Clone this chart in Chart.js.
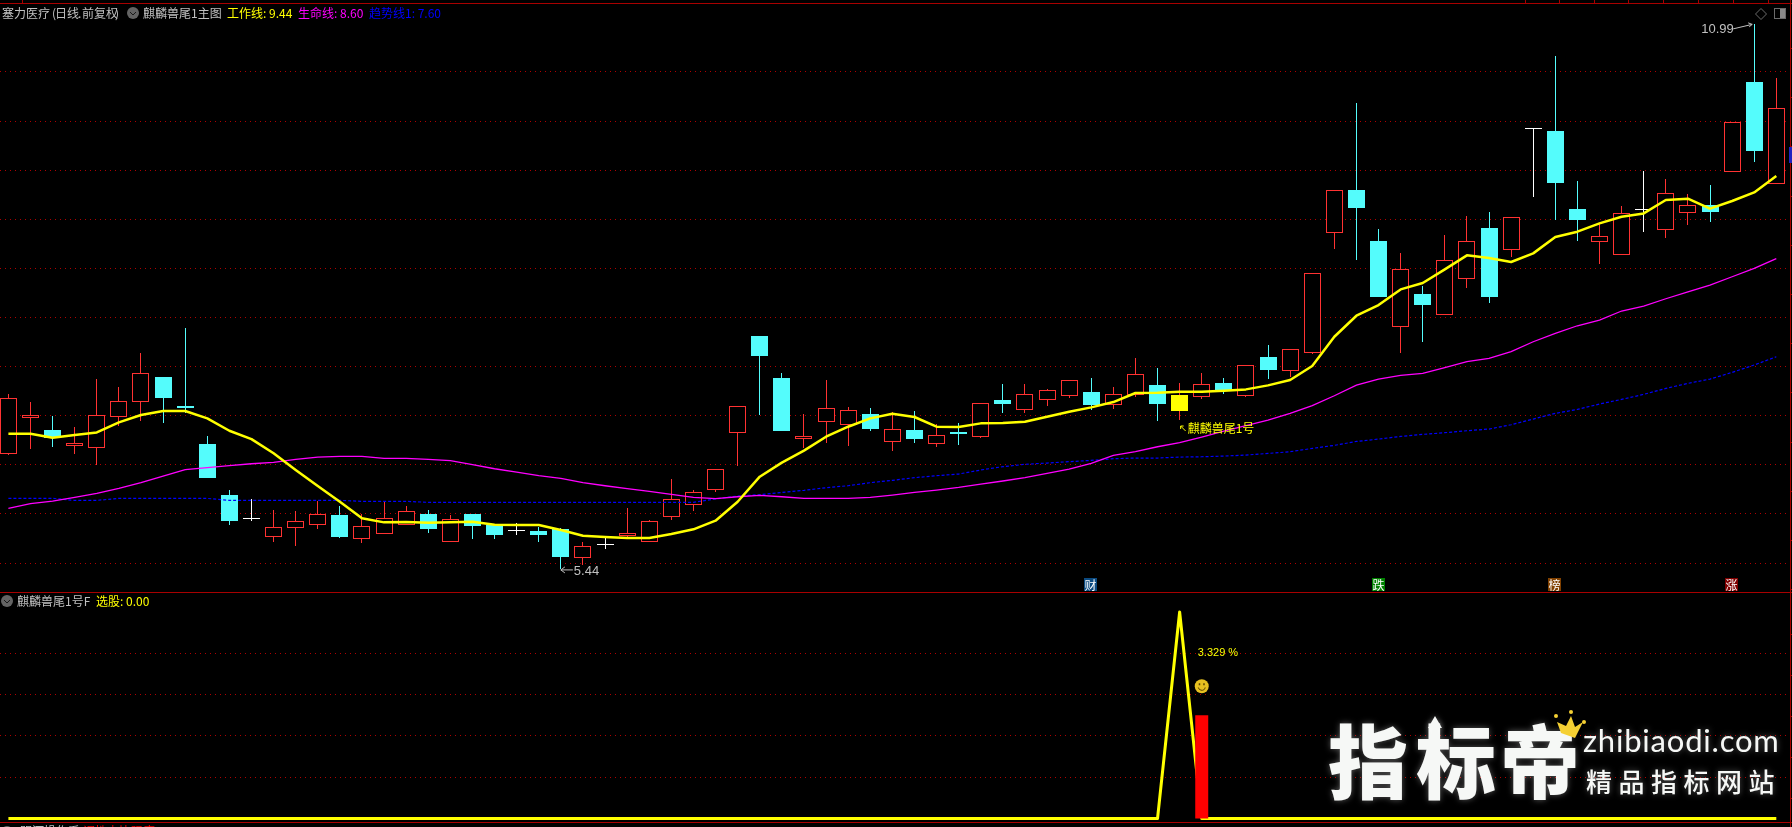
<!DOCTYPE html>
<html>
<head>
<meta charset="utf-8">
<title>塞力医疗</title>
<script src="https://cdn.jsdelivr.net/npm/chart.js@4/dist/chart.umd.min.js"></script>
<style>
html, body { margin: 0; padding: 0; background: #000; overflow: hidden; }
canvas { display: block; }
</style>
</head>
<body>
<canvas id="kline" width="1792" height="827"></canvas>
<script>
// daily bars
var opens = [6.613,6.980,6.854,6.695,6.674,6.990,7.143,7.394,7.099,6.712,6.192,5.951,5.765,5.860,5.887,5.989,5.748,5.798,5.890,5.999,5.717,5.999,5.887,5.829,5.826,5.846,5.554,5.693,5.778,5.717,5.972,6.094,6.247,6.827,7.811,7.384,6.766,6.939,6.908,7.017,6.735,6.854,6.715,6.834,6.786,7.160,7.061,7.163,7.204,7.241,7.112,7.207,7.312,7.048,7.193,7.332,7.203,7.597,7.458,7.641,8.864,9.298,8.779,7.906,8.239,8.028,8.395,8.911,8.690,9.926,9.899,9.105,8.772,8.640,9.101,8.894,9.067,9.145,9.485,10.398,9.363];
var highs = [7.221,7.139,6.997,6.888,7.374,7.292,7.638,7.394,7.893,6.793,6.243,6.148,6.040,6.029,6.131,6.084,5.995,6.121,6.080,6.040,5.989,5.999,5.887,5.904,5.870,5.853,5.714,5.751,6.060,5.938,6.355,6.243,6.454,7.095,7.811,7.431,7.017,7.363,7.085,7.078,7.034,7.048,6.912,6.925,7.126,7.323,7.323,7.272,7.360,7.384,7.292,7.587,7.486,7.333,7.434,7.383,7.512,7.719,7.675,8.449,9.295,10.184,8.901,8.653,8.320,8.840,9.033,9.074,9.019,9.926,10.663,9.390,8.959,9.135,9.492,9.410,9.257,9.349,9.987,10.99,10.439];
var lows = [6.600,6.661,6.681,6.610,6.494,6.895,6.949,6.925,7.024,6.365,5.887,5.928,5.714,5.673,5.846,5.754,5.707,5.798,5.890,5.805,5.717,5.744,5.744,5.785,5.714,5.44,5.479,5.642,5.761,5.717,5.938,6.029,6.223,6.491,7.007,6.844,6.671,6.722,6.691,6.847,6.640,6.722,6.681,6.701,6.773,7.027,7.027,7.099,7.180,7.058,7.068,7.194,6.949,6.956,7.170,7.224,7.193,7.373,7.394,7.628,8.697,8.589,8.208,7.638,7.750,8.028,8.300,8.147,8.616,9.230,8.996,8.782,8.545,8.640,8.870,8.809,8.942,8.972,9.485,9.583,9.363];
var closes = [7.177,7.004,6.773,6.718,7.004,7.146,7.431,7.180,7.078,6.365,5.928,5.951,5.863,5.924,5.995,5.765,5.873,5.955,6.026,5.846,5.944,5.877,5.785,5.829,5.785,5.561,5.670,5.693,5.802,5.924,6.148,6.219,6.454,7.095,7.608,6.844,6.793,7.075,7.054,6.864,6.861,6.762,6.800,6.813,7.126,7.119,7.217,7.258,7.360,7.109,7.217,7.421,7.119,7.211,7.319,7.251,7.512,7.465,7.675,8.449,9.295,9.115,8.208,8.490,8.127,8.582,8.775,8.208,9.019,9.926,9.369,8.993,8.826,9.061,9.101,9.264,9.142,9.074,9.987,9.695,10.130];

var workLine = [6.817,6.817,6.776,6.803,6.830,6.932,7.007,7.048,7.048,6.973,6.847,6.762,6.617,6.447,6.284,6.124,5.955,5.914,5.917,5.911,5.914,5.921,5.890,5.887,5.887,5.836,5.778,5.765,5.754,5.754,5.795,5.843,5.931,6.124,6.379,6.522,6.644,6.786,6.888,6.973,7.020,6.987,6.888,6.885,6.922,6.925,6.939,6.990,7.041,7.085,7.139,7.231,7.234,7.245,7.244,7.254,7.268,7.309,7.363,7.506,7.804,8.018,8.127,8.286,8.351,8.490,8.633,8.605,8.565,8.653,8.819,8.874,8.958,9.026,9.060,9.196,9.210,9.108,9.186,9.274,9.44];
var lifeLine = [6.056,6.104,6.131,6.168,6.209,6.260,6.318,6.386,6.450,6.471,6.491,6.511,6.525,6.555,6.579,6.586,6.586,6.566,6.566,6.555,6.542,6.501,6.460,6.426,6.389,6.362,6.318,6.287,6.257,6.230,6.199,6.169,6.155,6.175,6.189,6.175,6.158,6.158,6.158,6.169,6.192,6.219,6.243,6.270,6.304,6.335,6.369,6.413,6.457,6.515,6.596,6.634,6.684,6.725,6.783,6.844,6.898,6.956,7.024,7.102,7.203,7.312,7.373,7.411,7.431,7.489,7.550,7.584,7.652,7.753,7.838,7.916,7.974,8.066,8.117,8.191,8.262,8.330,8.415,8.500,8.60];
var trendLine = [6.158,6.158,6.158,6.138,6.138,6.158,6.158,6.158,6.158,6.158,6.138,6.138,6.138,6.138,6.138,6.138,6.128,6.128,6.128,6.118,6.118,6.118,6.118,6.118,6.118,6.118,6.118,6.118,6.118,6.118,6.118,6.118,6.152,6.182,6.196,6.219,6.240,6.267,6.287,6.318,6.342,6.369,6.389,6.406,6.447,6.481,6.505,6.518,6.532,6.545,6.562,6.569,6.569,6.579,6.582,6.589,6.599,6.616,6.633,6.667,6.698,6.738,6.762,6.789,6.810,6.827,6.847,6.864,6.908,6.966,7.024,7.064,7.119,7.166,7.217,7.278,7.329,7.373,7.441,7.516,7.60];

// lower panel
var pickLine = [0,0,0,0,0,0,0,0,0,0,0,0,0,0,0,0,0,0,0,0,0,0,0,0,0,0,0,0,0,0,0,0,0,0,0,0,0,0,0,0,0,0,0,0,0,0,0,0,0,0,0,0,0,100,0,0,0,0,0,0,0,0,0,0,0,0,0,0,0,0,0,0,0,0,0,0,0,0,0,0,0];
var pickBarIndex = [54];
var pickBarValue = [50];

var priceTicks = [10.5,10,9.5,9,8.5,8,7.5,7,6.5,6,5.5];
var pickTicks = [80,60,40,20];

var signalIndex = 53;
var lowIndex = 25;
var highIndex = 79;

var chipIndex = [49,62,70,78];
var chipText = ['财','跌','榜','涨'];
var chipColor = ['#0b4a80','#008000','#804000','#800000'];

var headerText = ['塞力医疗','(','日线','.','前复权',')','麒麟兽尾1主图','工作线: 9.44','生命线: 8.60','趋势线1: 7.60'];
var headerX = [2,52,55,78,82,115,143,227,298,369];
var headerColor = ['#c0c0c0','#c0c0c0','#c0c0c0','#c0c0c0','#c0c0c0','#c0c0c0','#c0c0c0','#ffff00','#ff00ff','#0000ff'];

var RED = '#ff3232', CYAN = '#54fcfc', WHITE = '#ffffff', YELLOW = '#ffff00';
var PANEL = '#a80000', GREY = '#c0c0c0';

var wicks = [], wickColors = [], bodies = [], bodyFill = [], bodyLine = [], dojis = [];
for (var i = 0; i < opens.length; i++) {
    var c = closes[i] > opens[i] ? RED : (closes[i] < opens[i] ? CYAN : WHITE);
    wicks.push({x: i, y: [lows[i], highs[i]]});
    wickColors.push(c);
    if (c === WHITE) {
        dojis.push({x: i, y: closes[i]});
    } else {
        bodies.push({x: i, y: [opens[i], closes[i]]});
        if (i == signalIndex) {
            bodyFill.push(YELLOW);
            bodyLine.push(YELLOW);
        } else {
            bodyFill.push(c === RED ? '#000000' : CYAN);
            bodyLine.push(c);
        }
    }
}

function toPoints(values) {
    return values.map(function (v, i) { return {x: i, y: v}; });
}

// the terminal draws on whole pixels, so snap the candles too
var snapPlugin = {
    id: 'snap',
    afterDatasetsUpdate: function (chart) {
        chart.data.datasets.forEach(function (ds, n) {
            if (!ds.snap) return;
            chart.getDatasetMeta(n).data.forEach(function (el) {
                el.x = Math.floor(el.x) + 0.5;
                if (ds.type === 'line') {
                    el.y = Math.floor(el.y) + 0.5;
                } else {
                    el.y = Math.round(el.y);
                    el.base = Math.round(el.base);
                }
            });
        });
    }
};

function text(ctx, str, x, y, color, font, align) {
    ctx.font = font;
    ctx.fillStyle = color;
    ctx.textAlign = align || 'left';
    ctx.textBaseline = 'middle';
    ctx.fillText(str, x, y);
}

function hline(ctx, y, x0, x1) {
    ctx.fillRect(x0, y, x1 - x0, 1);
}

function collapseIcon(ctx, x, y) {
    ctx.fillStyle = '#646464';
    ctx.beginPath();
    ctx.arc(x, y, 6, 0, Math.PI * 2);
    ctx.fill();
    ctx.strokeStyle = '#1a1a1a';
    ctx.lineWidth = 1;
    ctx.beginPath();
    ctx.moveTo(x - 3, y - 1);
    ctx.lineTo(x, y + 2);
    ctx.lineTo(x + 3, y - 1);
    ctx.stroke();
}

var CJK = '"Noto Sans CJK SC", sans-serif';
var LATIN = '"Liberation Sans", sans-serif';

var overlayPlugin = {
    id: 'overlay',
    afterDraw: function (chart) {
        var ctx = chart.ctx;
        var xs = chart.scales.x, ys = chart.scales.y, y2 = chart.scales.y2;
        var i;
        ctx.save();

        // frame
        ctx.fillStyle = PANEL;
        hline(ctx, 3, 0, 1792);
        hline(ctx, 592, 0, 1792);
        hline(ctx, 822, 0, 1792);
        ctx.fillRect(1790, 0, 1, 827);
        var topTicks = [22,1525,1559,1594,1628,1663,1698,1733,1768];
        for (i = 0; i < topTicks.length; i++) ctx.fillRect(topTicks[i], 0, 1, 3);
        for (i = 48; i < 590; i += 49.2) ctx.fillRect(1790, Math.round(i), 2, 1);
        for (i = 634; i < 820; i += 41) ctx.fillRect(1790, Math.round(i), 2, 1);
        ctx.fillStyle = '#2020c0';
        ctx.fillRect(1789, 147, 3, 16);

        // header rows
        for (i = 0; i < headerText.length; i++) {
            text(ctx, headerText[i], headerX[i], 13, headerColor[i], '12px ' + CJK);
        }
        collapseIcon(ctx, 133, 13);
        collapseIcon(ctx, 7, 601);
        text(ctx, '麒麟兽尾1号F', 17, 601, GREY, '12px ' + CJK);
        text(ctx, '选股: 0.00', 96, 601, YELLOW, '12px ' + CJK);
        collapseIcon(ctx, 7, 832);
        text(ctx, '明河操作系', 20, 831, GREY, '12px ' + CJK);
        text(ctx, '调性占比强度: 0.00', 83, 831, '#ff0000', '12px ' + CJK);

        // window buttons, top right
        ctx.strokeStyle = '#6a6a6a';
        ctx.lineWidth = 1;
        ctx.beginPath();
        ctx.moveTo(1761, 8.5); ctx.lineTo(1766.5, 14); ctx.lineTo(1761, 19.5); ctx.lineTo(1755.5, 14);
        ctx.closePath();
        ctx.stroke();
        ctx.strokeRect(1774.5, 8.5, 11, 10);
        ctx.fillStyle = '#8a8a8a';
        ctx.fillRect(1780, 9, 5, 9);

        // high / low marks
        var hx = xs.getPixelForValue(highIndex), hy = ys.getPixelForValue(highs[highIndex]);
        text(ctx, highs[highIndex].toFixed(2), hx - 53, hy + 6, GREY, '13px ' + LATIN);
        ctx.strokeStyle = GREY;
        ctx.beginPath();
        ctx.moveTo(hx - 21, hy + 5); ctx.lineTo(hx - 2, hy + 0.5);
        ctx.moveTo(hx - 6, hy - 1); ctx.lineTo(hx - 2, hy + 0.5); ctx.lineTo(hx - 5, hy + 3);
        ctx.stroke();

        var lx = xs.getPixelForValue(lowIndex), ly = ys.getPixelForValue(lows[lowIndex]);
        text(ctx, lows[lowIndex].toFixed(2), lx + 13, ly + 3, GREY, '13px ' + LATIN);
        ctx.beginPath();
        ctx.moveTo(lx + 12, ly + 1); ctx.lineTo(lx, ly + 1);
        ctx.moveTo(lx + 4, ly - 2); ctx.lineTo(lx, ly + 1); ctx.lineTo(lx + 4, ly + 4);
        ctx.stroke();

        // signal label under the yellow bar
        var sx = xs.getPixelForValue(signalIndex);
        var sy = ys.getPixelForValue(lows[signalIndex]);
        ctx.strokeStyle = YELLOW;
        ctx.beginPath();
        ctx.moveTo(sx + 6, sy + 11); ctx.lineTo(sx + 1, sy + 6);
        ctx.moveTo(sx + 1, sy + 9); ctx.lineTo(sx + 1, sy + 6); ctx.lineTo(sx + 4, sy + 6);
        ctx.stroke();
        text(ctx, '麒麟兽尾1号', sx + 8, sy + 8, YELLOW, '12px ' + CJK);

        // event chips on the panel edge
        for (i = 0; i < chipIndex.length; i++) {
            var cx = Math.round(xs.getPixelForValue(chipIndex[i]));
            ctx.fillStyle = chipColor[i];
            ctx.fillRect(cx - 7, 578, 13, 13);
            text(ctx, chipText[i], cx - 0.5, 585, WHITE, '12px ' + CJK, 'center');
        }

        // lower panel labels, hung on the pick bar
        var bx = xs.getPixelForValue(pickBarIndex[0]);
        text(ctx, '3.329 %', bx - 4, 653, YELLOW, '11px ' + LATIN);
        var fy = y2.getPixelForValue(pickBarValue[0]) - 29;
        ctx.fillStyle = '#e6c020';
        ctx.beginPath();
        ctx.arc(bx, fy, 7, 0, Math.PI * 2);
        ctx.fill();
        ctx.fillStyle = '#5a4200';
        ctx.fillRect(bx - 3, fy - 3, 1.5, 2);
        ctx.fillRect(bx + 1.5, fy - 3, 1.5, 2);
        ctx.strokeStyle = '#5a4200';
        ctx.beginPath();
        ctx.arc(bx, fy + 0.5, 3.5, 0.2, Math.PI - 0.2);
        ctx.stroke();

        // watermark
        ctx.shadowColor = 'rgba(255,255,255,0.35)';
        ctx.shadowBlur = 6;
        var bigX = [1368,1456,1540], bigCh = ['指','标','帝'];
        for (i = 0; i < 3; i++) {
            text(ctx, bigCh[i], bigX[i], 762, '#f6f8f6', '900 80px ' + CJK, 'center');
        }
        ctx.fillStyle = '#f6f8f6';
        ctx.beginPath();
        ctx.moveTo(1435, 716); ctx.lineTo(1442, 728); ctx.lineTo(1438, 728); ctx.lineTo(1438, 735);
        ctx.lineTo(1432, 735); ctx.lineTo(1432, 728); ctx.lineTo(1428, 728);
        ctx.closePath();
        ctx.fill();
        ctx.letterSpacing = '0.8px';
        text(ctx, 'zhibiaodi.com', 1583, 742, '#f6f8f6', '31px Lato, sans-serif');
        ctx.letterSpacing = '6.5px';
        text(ctx, '精品指标网站', 1586, 782, '#f6f8f6', '500 26px ' + CJK);
        ctx.letterSpacing = '0px';
        ctx.shadowBlur = 0;
        ctx.fillStyle = '#f5d033';
        ctx.beginPath();
        ctx.moveTo(1557, 722); ctx.lineTo(1566, 726); ctx.lineTo(1571, 716); ctx.lineTo(1575, 727);
        ctx.lineTo(1583, 722); ctx.lineTo(1575, 738); ctx.lineTo(1561, 733);
        ctx.closePath();
        ctx.fill();
        ctx.beginPath(); ctx.arc(1556, 716, 2, 0, Math.PI * 2); ctx.fill();
        ctx.beginPath(); ctx.arc(1571, 712, 2, 0, Math.PI * 2); ctx.fill();
        ctx.beginPath(); ctx.arc(1584, 722, 2, 0, Math.PI * 2); ctx.fill();

        ctx.restore();
    }
};

function valueAxis(position, min, max, ticks) {
    return {
        type: 'linear',
        position: position,
        min: min,
        max: max,
        afterBuildTicks: function (scale) {
            scale.ticks = ticks.map(function (v) { return {value: v}; });
        },
        ticks: {display: false},
        border: {display: false, dash: [1, 4]},
        grid: {color: '#b00000', lineWidth: 1, drawTicks: false}
    };
}

new Chart(document.getElementById('kline'), {
    type: 'bar',
    data: {
        datasets: [
            {type: 'bar', label: 'wick', snap: true, data: wicks, grouped: false, barThickness: 1, inflateAmount: 0,
             backgroundColor: wickColors, borderWidth: 0, order: 6, yAxisID: 'y'},
            {type: 'bar', label: 'body', snap: true, data: bodies, grouped: false, barThickness: 17, inflateAmount: 0,
             backgroundColor: bodyFill, borderColor: bodyLine, borderWidth: 1, borderSkipped: false, order: 5, yAxisID: 'y'},
            {type: 'line', label: 'doji', snap: true, data: dojis, showLine: false, pointStyle: 'line', pointRadius: 8.5,
             pointBorderColor: WHITE, pointBorderWidth: 1, order: 4, yAxisID: 'y'},
            {type: 'line', label: '趋势线1', data: toPoints(trendLine), borderColor: '#0000ff', borderWidth: 1.2,
             borderDash: [3, 2], pointRadius: 0, order: 3, yAxisID: 'y'},
            {type: 'line', label: '生命线', data: toPoints(lifeLine), borderColor: '#ff00ff', borderWidth: 1.3,
             pointRadius: 0, order: 2, yAxisID: 'y'},
            {type: 'line', label: '工作线', data: toPoints(workLine), borderColor: YELLOW, borderWidth: 2.5,
             borderJoinStyle: 'round', pointRadius: 0, order: 1, yAxisID: 'y'},
            {type: 'line', label: '选股', data: toPoints(pickLine), borderColor: YELLOW, borderWidth: 3,
             borderJoinStyle: 'round', pointRadius: 0, order: 8, yAxisID: 'y2'},
            {type: 'bar', label: 'pick', data: [{x: pickBarIndex[0], y: pickBarValue[0]}], grouped: false, barThickness: 13,
             inflateAmount: 0, backgroundColor: '#ff0000', borderWidth: 0, order: 7, yAxisID: 'y2'}
        ]
    },
    options: {
        responsive: false,
        devicePixelRatio: 1,
        animation: false,
        events: [],
        layout: {autoPadding: false, padding: {left: 0, right: 2, top: 0, bottom: 0}},
        plugins: {legend: {display: false}, tooltip: {enabled: false}, title: {display: false}},
        scales: {
            x: {type: 'linear', offset: false, display: false, min: -0.38, max: 80.62},
            // one canvas, two panels: the ranges put each panel at its own height
            y: valueAxis('left', 2.812, 11.233, priceTicks),
            y2: valueAxis('right', -4.116, 396.4, pickTicks)
        }
    },
    plugins: [snapPlugin, overlayPlugin]
});
</script>
</body>
</html>
